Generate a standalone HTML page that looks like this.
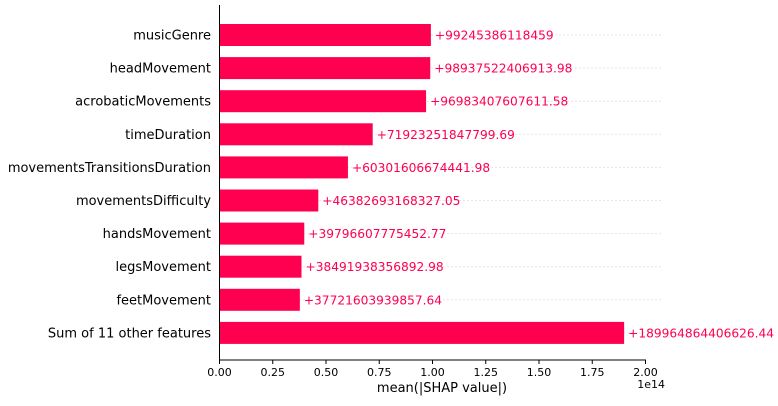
<!DOCTYPE html>
<html><head><meta charset="utf-8"><style>body{margin:0;background:#fff}svg{font-family:"DejaVu Sans","Liberation Sans",sans-serif}</style></head>
<body>
<svg id="chart" width="778" height="401" viewBox="0 0 778 401" xmlns="http://www.w3.org/2000/svg"></svg>
<script>
const categories=["musicGenre","headMovement","acrobaticMovements","timeDuration","movementsTransitionsDuration","movementsDifficulty","handsMovement","legsMovement","feetMovement","Sum of 11 other features"];
const values=[99245386118459,98937522406913.98,96983407607611.58,71923251847799.69,60301606674441.98,46382693168327.05,39796607775452.77,38491938356892.98,37721603939857.64,189964864406626.44];
const valueLabels=["+99245386118459","+98937522406913.98","+96983407607611.58","+71923251847799.69","+60301606674441.98","+46382693168327.05","+39796607775452.77","+38491938356892.98","+37721603939857.64","+189964864406626.44"];
const ticks=[0,0.25,0.5,0.75,1.0,1.25,1.5,1.75,2.0];
const tickLabels=["0.00","0.25","0.50","0.75","1.00","1.25","1.50","1.75","2.00"];
const svg=document.getElementById('chart');const NS="http://www.w3.org/2000/svg";
const x0=219.5,pxPer=213;const x=v=>x0+v/1e14*pxPer;
const y=i=>35+i*33.1;
function mk(t,a,txt){const e=document.createElementNS(NS,t);for(const k in a)e.setAttribute(k,a[k]);if(txt!==undefined)e.textContent=txt;svg.appendChild(e);return e;}
categories.forEach((c,i)=>{
 const g=mk('line',{x1:x0,x2:663,y1:y(i),y2:y(i),stroke:"#ccc","stroke-dasharray":"1,3","stroke-width":1});
 
 const r=mk('rect',{x:x0,y:y(i)-11,width:x(values[i])-x0,height:22,fill:"#ff0051"});
 
 const l=mk('text',{x:211,y:y(i)+4.5,"text-anchor":"end","font-size":13,fill:"#000"},c);
 
 const v=mk('text',{x:x(values[i])+4,y:y(i)+4.5,"font-size":12.2,fill:"#ff0051"},valueLabels[i]);
 
});
const ax=mk('line',{x1:x0,x2:x0,y1:5,y2:360,stroke:"#000","stroke-width":1});

const bx=mk('line',{x1:x0,x2:x(2.0e14)+0.5,y1:360,y2:360,stroke:"#000","stroke-width":1});

ticks.forEach((t,i)=>{
 const tk=mk('line',{x1:x(t*1e14),x2:x(t*1e14),y1:360,y2:364,stroke:"#000"});
 
 const tl=mk('text',{x:x(t*1e14),y:376,"text-anchor":"middle","font-size":11,fill:"#000"},tickLabels[i]);
 
});
const off=mk('text',{x:665,y:388,"text-anchor":"end","font-size":11,fill:"#000"},"1e14");

const xt=mk('text',{x:442,y:392,"text-anchor":"middle","font-size":13,fill:"#000"},"mean(|SHAP value|)");

</script>
</body></html>
